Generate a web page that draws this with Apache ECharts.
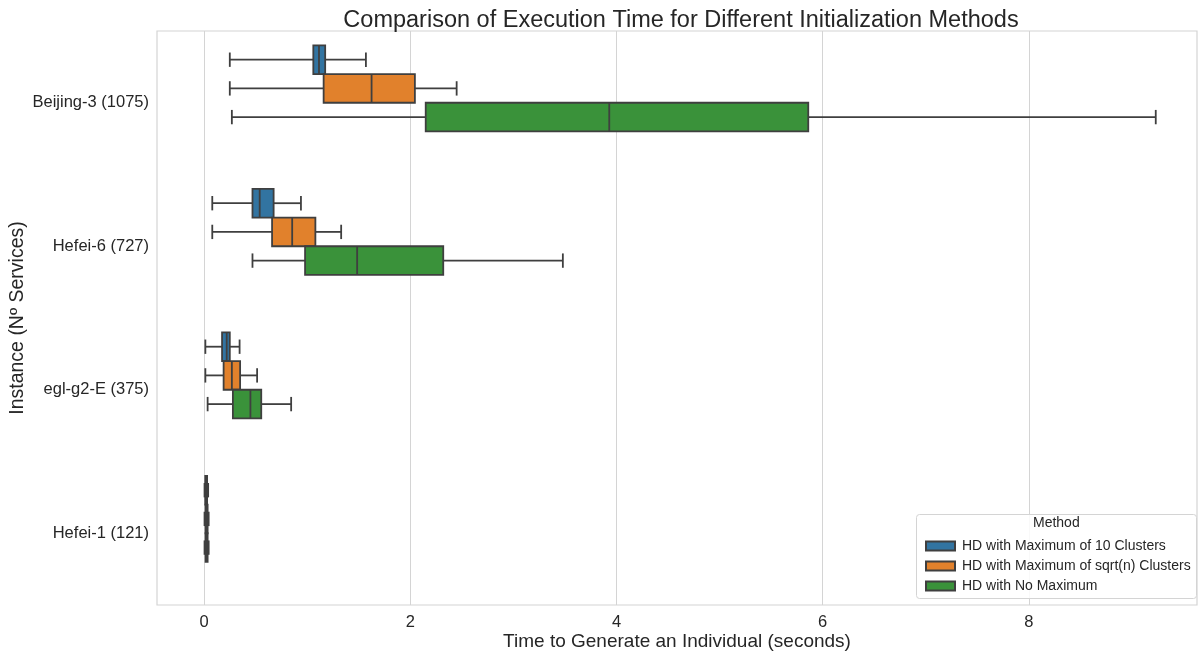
<!DOCTYPE html>
<html><head><meta charset="utf-8">
<script src="https://cdn.jsdelivr.net/npm/echarts@6/dist/echarts.min.js"></script>
<style>html,body{margin:0;padding:0;background:#fff}#c{width:1203px;height:657px}</style>
</head><body><div id="c"></div>
<script>
const categories = ['Beijing-3 (1075)', 'Hefei-6 (727)', 'egl-g2-E (375)', 'Hefei-1 (121)'];
const methods = ['HD with Maximum of 10 Clusters', 'HD with Maximum of sqrt(n) Clusters', 'HD with No Maximum'];
const colors = ['#3274a1', '#e1812c', '#3a923a'];
// each row: [low whisker, Q1, median, Q3, high whisker], one row per category
const tenClusters = [
  [0.25, 1.06, 1.115, 1.175, 1.57],
  [0.08, 0.47, 0.54, 0.675, 0.94],
  [0.013, 0.175, 0.22, 0.25, 0.345],
  [0.005, 0.012, 0.02, 0.03, 0.04]
];
const sqrtClusters = [
  [0.25, 1.16, 1.625, 2.045, 2.45],
  [0.08, 0.66, 0.855, 1.08, 1.33],
  [0.013, 0.19, 0.27, 0.35, 0.515],
  [0.005, 0.015, 0.025, 0.035, 0.045]
];
const noMaximum = [
  [0.27, 2.15, 3.93, 5.86, 9.23],
  [0.47, 0.98, 1.485, 2.32, 3.48],
  [0.035, 0.28, 0.45, 0.555, 0.845],
  [0.005, 0.015, 0.025, 0.035, 0.045]
];
const xTicks = [0, 2, 4, 6, 8];

const seriesData = [tenClusters, sqrtClusters, noMaximum];
const STROKE = '#3f3f3f';
const FONT = 'Liberation Sans';

function makeRender(k) {
  return function (params, api) {
    const cat = api.value(0);
    const band = api.size([0, 1])[1];
    const h = band * 0.2;
    const off = (k - 1.5) * h;
    const yc = api.coord([0, cat])[1] + off;
    const px = i => api.coord([api.value(i), cat])[0];
    const lo = px(1), q1 = px(2), md = px(3), q3 = px(4), hi = px(5);
    const ls = { stroke: STROKE, lineWidth: 1.8, fill: null };
    return {
      type: 'group',
      children: [
        { type: 'line', shape: { x1: lo, y1: yc, x2: q1, y2: yc }, style: ls },
        { type: 'line', shape: { x1: q3, y1: yc, x2: hi, y2: yc }, style: ls },
        { type: 'line', shape: { x1: lo, y1: yc - h / 4, x2: lo, y2: yc + h / 4 }, style: ls },
        { type: 'line', shape: { x1: hi, y1: yc - h / 4, x2: hi, y2: yc + h / 4 }, style: ls },
        { type: 'rect', shape: { x: q1, y: yc - h / 2, width: q3 - q1, height: h },
          style: { fill: colors[k], stroke: STROKE, lineWidth: 1.8 } },
        { type: 'line', shape: { x1: md, y1: yc - h / 2, x2: md, y2: yc + h / 2 }, style: ls }
      ]
    };
  };
}

const chart = echarts.init(document.getElementById('c'), null, { renderer: 'canvas' });
chart.setOption({
  backgroundColor: '#ffffff',
  animation: false,
  textStyle: { fontFamily: FONT },
  title: {
    text: 'Comparison of Execution Time for Different Initialization Methods',
    left: 676, top: 4, textAlign: 'center',
    textStyle: { fontFamily: FONT, fontSize: 23.5, fontWeight: 'normal', color: '#262626' }
  },
  grid: {
    left: 157, top: 31, width: 1040, height: 574,
    outerBoundsMode: 'none', containLabel: false,
    show: true, borderColor: '#d4d4d4', borderWidth: 1.2, backgroundColor: '#ffffff'
  },
  xAxis: {
    type: 'value', min: -0.456, max: 9.63,
    name: 'Time to Generate an Individual (seconds)',
    nameLocation: 'middle', nameGap: 27, nameMoveOverlap: false,
    nameTextStyle: { fontFamily: FONT, fontSize: 19, color: '#262626' },
    axisLine: { show: false },
    axisTick: { show: false, customValues: xTicks },
    axisLabel: { customValues: xTicks, fontFamily: FONT, fontSize: 16.5, color: '#262626', margin: 9 },
    splitLine: { show: true, lineStyle: { color: '#d4d4d4', width: 1 } }
  },
  yAxis: {
    type: 'category', data: categories, inverse: true,
    name: 'Instance (Nº Services)', nameLocation: 'middle', nameGap: 129, nameRotate: 90,
    nameMoveOverlap: false,
    nameTextStyle: { fontFamily: FONT, fontSize: 19.5, color: '#262626' },
    axisLine: { show: false }, axisTick: { show: false },
    axisLabel: { fontFamily: FONT, fontSize: 16.5, color: '#262626', margin: 8 },
    splitLine: { show: false }
  },
  legend: {
    data: methods, orient: 'vertical', left: 920, top: 534, z: 100,
    icon: 'rect', itemWidth: 29, itemHeight: 9, itemGap: 6,
    textStyle: { fontFamily: FONT, fontSize: 14, color: '#262626', padding: [0, 0, 0, 2] }
  },
  graphic: [
    { type: 'rect', left: 916, top: 514, z: 50,
      shape: { width: 280, height: 84, r: 3 },
      style: { fill: 'rgba(255,255,255,0.85)', stroke: '#d4d4d4', lineWidth: 1 } },
    { type: 'text', left: 1033, top: 516, z: 51,
      style: { text: 'Method', font: '14px "Liberation Sans"', fill: '#262626' } }
  ],
  series: seriesData.map((arr, k) => ({
    type: 'custom', name: methods[k],
    itemStyle: { color: colors[k], borderColor: STROKE, borderWidth: 1 },
    renderItem: makeRender(k),
    encode: { x: [1, 2, 3, 4, 5], y: 0 },
    data: arr.map((r, i) => [i].concat(r))
  }))
});
</script></body></html>
